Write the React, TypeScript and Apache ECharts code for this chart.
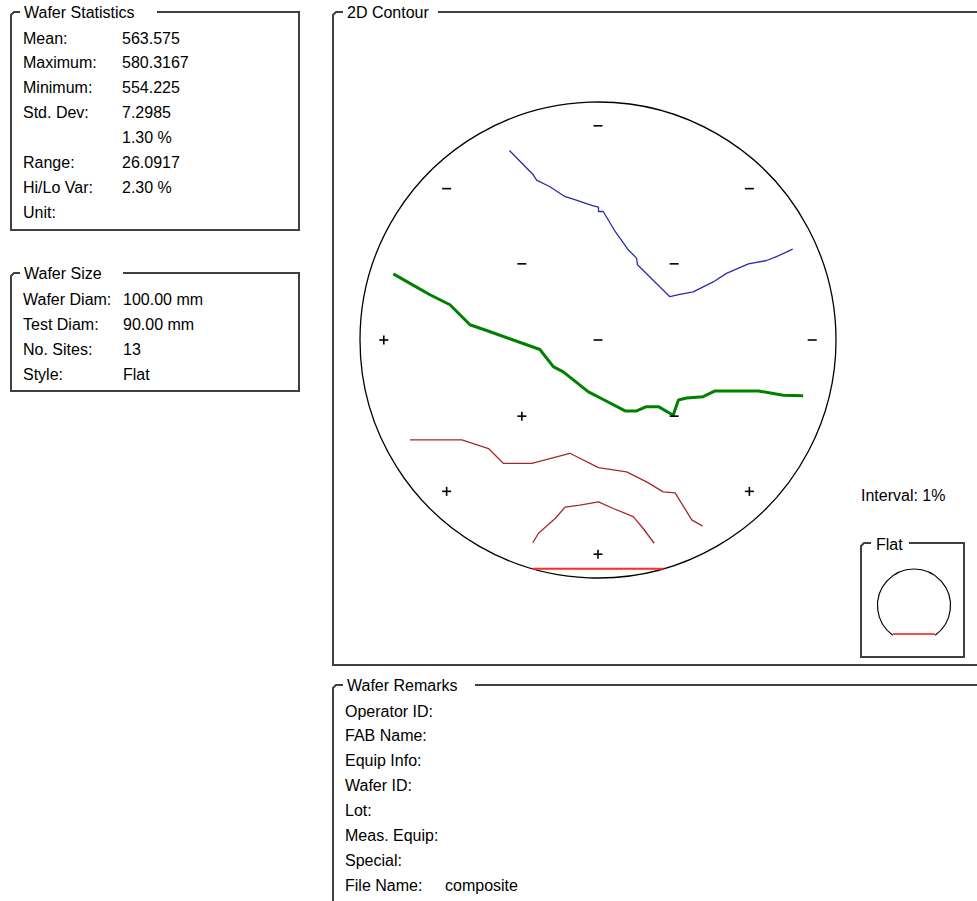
import React, { useEffect, useRef } from "react";
import * as echarts from "echarts";

// ---- Wafer statistics panel ----
const STAT_LABELS = ["Mean:", "Maximum:", "Minimum:", "Std. Dev:", "", "Range:", "Hi/Lo Var:", "Unit:"];
const STAT_VALUES = ["563.575", "580.3167", "554.225", "7.2985", "1.30 %", "26.0917", "2.30 %", ""];

// ---- Wafer size panel ----
const SIZE_LABELS = ["Wafer Diam:", "Test Diam:", "No. Sites:", "Style:"];
const SIZE_VALUES = ["100.00 mm", "90.00 mm", "13", "Flat"];

// ---- Remarks panel ----
const REMARK_LABELS = ["Operator ID:", "FAB Name:", "Equip Info:", "Wafer ID:", "Lot:", "Meas. Equip:", "Special:", "File Name:"];
const REMARK_VALUES = ["", "", "", "", "", "", "", "composite"];

const INTERVAL_TEXT = "Interval: 1%";

// ---- Wafer geometry (mm) ----
const WAFER_DIAM = 100;
const FLAT_LENGTH = 27.5;

// Measurement sites (mm from wafer centre) and sign relative to the mean
const SITE_X = [0, -31.8, 31.8, -16, 16, -45, 0, 45, -16, 16, -31.8, 31.8, 0];
const SITE_Y = [45, 31.8, 31.8, 16, 16, 0, 0, 0, -16, -16, -31.8, -31.8, -45];
const SITE_SIGN = ["-", "-", "-", "-", "-", "+", "-", "-", "+", "-", "+", "+", "+"];

// Contour lines (mm), 1% interval around the mean
const CONTOUR_MINUS_1: number[][] = [
  [-18.6, 39.8], [-13.6, 34.7], [-12.9, 33.6], [-10.1, 32.2], [-6.9, 30.1], [-5.2, 29.6],
  [-1.0, 28.2], [0.1, 27.9], [0.1, 27.0], [1.1, 27.0], [3.6, 22.8], [6.4, 18.9], [8.1, 17.2],
  [8.3, 15.8], [15.1, 9.1], [17.2, 9.6], [20.0, 10.1], [24.2, 12.2], [27.0, 14.0], [31.6, 16.0],
  [35.4, 16.7], [37.5, 17.5], [40.9, 19.1],
];
const CONTOUR_MEAN: number[][] = [
  [-43.0, 13.9], [-39.5, 11.9], [-35.3, 9.5], [-31.1, 7.4], [-26.9, 3.2], [-23.4, 2.0],
  [-17.8, 0.0], [-12.2, -2.0], [-9.4, -5.6], [-7.3, -6.7], [-2.0, -10.9], [1.1, -12.5],
  [5.7, -14.9], [8.1, -14.9], [10.2, -14.0], [12.7, -14.0], [15.8, -15.8], [16.9, -12.6],
  [18.6, -12.2], [22.1, -11.9], [24.6, -10.7], [33.7, -10.7], [38.9, -11.6], [43.1, -11.7],
];
const CONTOUR_PLUS_1: number[][] = [
  [-39.5, -21.0], [-28.6, -21.0], [-23.0, -22.8], [-19.9, -25.9], [-13.9, -25.9], [-5.9, -23.8],
  [0.1, -26.8], [6.0, -27.7], [10.2, -29.8], [13.7, -31.9], [16.2, -32.1], [19.7, -37.8], [22.0, -39.1],
];
const CONTOUR_PLUS_2: number[][] = [
  [-13.7, -42.6], [-12.5, -40.6], [-9.0, -37.5], [-6.9, -35.1], [-3.8, -34.7], [0.1, -34.0],
  [3.2, -35.4], [7.4, -37.1], [9.5, -39.6], [11.8, -42.7],
];

const FONT = '16px "Liberation Sans", Arial, sans-serif';
const FRAME = "#404040";

function frame(left: number, top: number, right: number, bottom: number, gapStart: number, gapEnd: number) {
  return {
    type: "polyline",
    silent: true,
    shape: {
      points: [
        [gapEnd, top], [right, top], [right, bottom], [left, bottom], [left, top + 3], [left + 3, top], [gapStart, top],
      ],
    },
    style: { fill: "none", stroke: FRAME, lineWidth: 2 },
  };
}

function text(x: number, y: number, t: string) {
  return {
    type: "text",
    silent: true,
    x,
    y,
    style: { text: t, font: FONT, fill: "#000", align: "left", verticalAlign: "middle" },
  };
}

function rows(labels: string[], values: string[], lx: number, vx: number, y0: number, dy: number) {
  const out: any[] = [];
  labels.forEach((l, i) => {
    if (l) out.push(text(lx, y0 + i * dy, l));
    if (values[i]) out.push(text(vx, y0 + i * dy, values[i]));
  });
  return out;
}

export default function App() {
  const ref = useRef<HTMLDivElement>(null);

  useEffect(() => {
    if (!ref.current) return;
    const chart = echarts.init(ref.current, undefined, { renderer: "svg" });

    const graphic: any[] = [
      frame(11, 12, 299, 230, 20, 157),
      text(24, 12, "Wafer Statistics"),
      ...rows(STAT_LABELS, STAT_VALUES, 23, 122, 38, 24.86),

      frame(11, 273, 299, 391, 20, 123),
      text(24, 273, "Wafer Size"),
      ...rows(SIZE_LABELS, SIZE_VALUES, 23, 123, 299, 25),

      frame(333, 12, 1000, 665, 343, 438),
      text(347, 12, "2D Contour"),

      frame(333, 685, 1000, 940, 343, 475),
      text(347, 685, "Wafer Remarks"),
      ...rows(REMARK_LABELS, REMARK_VALUES, 345, 445, 711, 24.9),

      text(861, 495, INTERVAL_TEXT),

      // flat-style icon
      frame(861, 543, 964, 657, 871, 909),
      text(876, 544, "Flat"),
      {
        type: "arc",
        silent: true,
        shape: { cx: 914, cy: 605.5, r: 36.5, startAngle: Math.PI / 2 + 0.62, endAngle: Math.PI / 2 - 0.62 + Math.PI * 2, clockwise: true },
        style: { fill: "none", stroke: "#000", lineWidth: 1.2 },
      },
      {
        type: "line",
        silent: true,
        shape: { x1: 893, y1: 634, x2: 935, y2: 634 },
        style: { stroke: "#ff1010", lineWidth: 1.5 },
      },
    ];

    const lineSeries = (data: number[][], color: string, width: number) => ({
      type: "line",
      data,
      symbol: "none",
      showSymbol: false,
      silent: true,
      clip: false,
      lineStyle: { color, width },
      z: 3,
    });

    chart.setOption({
      animation: false,
      grid: { left: 360, top: 102, width: 476, height: 476 },
      xAxis: { type: "value", min: -50, max: 50, show: false },
      yAxis: { type: "value", min: -50, max: 50, show: false },
      graphic,
      series: [
        {
          type: "custom",
          silent: true,
          clip: false,
          data: [[0, 0]],
          encode: { x: 0, y: 1 },
          z: 2,
          renderItem: (_p: any, api: any) => {
            const c = api.coord([0, 0]);
            const r = api.size([WAFER_DIAM / 2, 0])[0];
            const half = FLAT_LENGTH / 2;
            const fy = -Math.sqrt((WAFER_DIAM / 2) ** 2 - half ** 2);
            const p1 = api.coord([-half, fy]);
            const p2 = api.coord([half, fy]);
            return {
              type: "group",
              children: [
                { type: "circle", shape: { cx: c[0], cy: c[1], r }, style: { fill: "none", stroke: "#000", lineWidth: 1.3 } },
                { type: "line", shape: { x1: p1[0], y1: p1[1], x2: p2[0], y2: p2[1] }, style: { stroke: "#ff2a2a", lineWidth: 2 } },
              ],
            };
          },
        },
        lineSeries(CONTOUR_MINUS_1, "#2b2bad", 1.3),
        lineSeries(CONTOUR_MEAN, "#008000", 3),
        lineSeries(CONTOUR_PLUS_1, "#a52a2a", 1.3),
        lineSeries(CONTOUR_PLUS_2, "#a52a2a", 1.3),
        {
          type: "custom",
          silent: true,
          clip: false,
          data: SITE_X.map((x, i) => [x, SITE_Y[i], SITE_SIGN[i] === "+" ? 1 : 0]),
          encode: { x: 0, y: 1 },
          z: 4,
          renderItem: (_p: any, api: any) => {
            const p = api.coord([api.value(0), api.value(1)]);
            const h = 4.5;
            const st = { stroke: "#000", lineWidth: 1.6 };
            const children: any[] = [
              { type: "line", shape: { x1: p[0] - h, y1: p[1], x2: p[0] + h, y2: p[1] }, style: st },
            ];
            if (api.value(2) === 1) {
              children.push({ type: "line", shape: { x1: p[0], y1: p[1] - h, x2: p[0], y2: p[1] + h }, style: st });
            }
            return { type: "group", children };
          },
        },
      ],
    });

    return () => chart.dispose();
  }, []);

  return (
    <div
      ref={ref}
      style={{ position: "fixed", left: 0, top: 0, width: 977, height: 901, background: "#fff" }}
    />
  );
}
